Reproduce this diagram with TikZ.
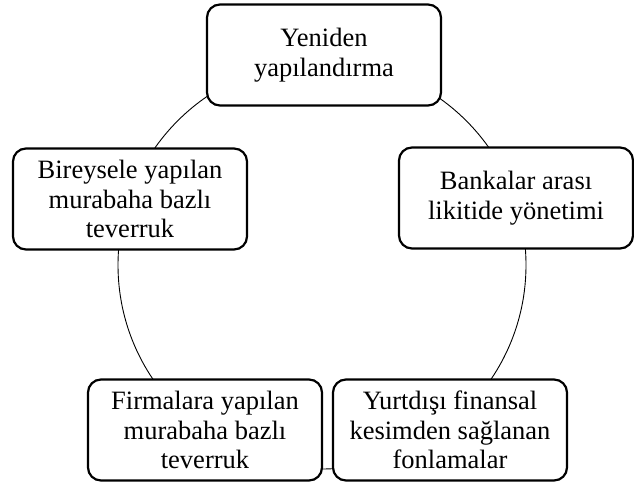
\documentclass[tikz,border=0pt]{standalone}
\usepackage{fontspec}
\setmainfont{Liberation Serif}
\begin{document}
\begin{tikzpicture}[x=1pt,y=-1pt,
  stage/.style={draw=black, line width=2.2pt, fill=white, rounded corners=13pt,
    minimum width=234pt, minimum height=101pt, align=center, inner sep=0pt,
    font=\fontsize{26.5}{29.5}\selectfont},
  ring/.style={draw=black, line width=0.9pt}]
\useasboundingbox (0,0) rectangle (634,486);
% the cycle ring behind the five stages
\coordinate (hub) at (322,265);
\draw[ring] (hub) circle[radius=204pt];
% stages
\node[stage] (restr) at (324,55) {Yeniden\\yapılandırma};
\node[stage] (bank) at (516,198) {Bankalar arası\\likitide yönetimi};
\node[stage] (abroad) at (450,430) {Yurtdışı finansal\\kesimden sağlanan\\fonlamalar};
\node[stage] (firm) at (205,430) {Firmalara yapılan\\murabaha bazlı\\teverruk};
\node[stage] (indiv) at (130,199) {Bireysele yapılan\\murabaha bazlı\\teverruk};
\end{tikzpicture}
\end{document}
